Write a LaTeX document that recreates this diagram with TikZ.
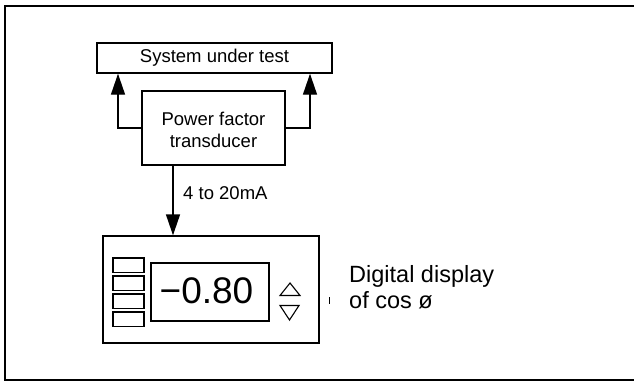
\documentclass[tikz,border=0pt]{standalone}
\usepackage{fontspec}
\setmainfont{Liberation Sans}
\usetikzlibrary{arrows.meta}
\tikzset{
  box/.style={draw, line width=1.4pt, inner sep=0pt},
  label/.style={inner sep=0pt, font=\fontsize{18.5}{22}\selectfont},
  flow/.style={line width=1.4pt, -{Triangle[length=21pt,width=14pt]}},
  key/.style={draw, line width=1.1pt},
}
\begin{document}
\begin{tikzpicture}[x=1pt,y=-1pt]
\useasboundingbox (0,0) rectangle (634,381);
% open frame (left, top, bottom)
\draw[line width=2.2pt] (634,6) -- (5,6) -- (5,380) -- (634,380);

% system and transducer
\node[box, minimum width=235pt, minimum height=30pt] (sys) at (214.5,58) {};
\node[label] (systxt) at (sys.center) {System under test};
\node[box, minimum width=143pt, minimum height=74pt] (pft) at (213.5,128) {};
\node[label, align=center] (pfttxt) at (213.5,130) {Power factor\\transducer};

\coordinate (lx) at (118,0);
\coordinate (rx) at (310,0);
\coordinate (dx) at (173,0);
\draw[flow] (pft.west) -| (sys.south -| lx);
\draw[flow] (pft.east) -| (sys.south -| rx);

% display unit
\node[box, minimum width=216pt, minimum height=107pt] (disp) at (211,289.5) {};
\draw[flow] (pft.south -| dx) -- (disp.north -| dx);
\node[label, anchor=base west] (ma) at (183,199.5) {4 to 20mA};

\foreach \t [count=\i] in {258,276,294,312}
  \draw[key] (113,\t) rectangle (144,\t+14.5);
\node[box, line width=1.2pt, minimum width=118pt, minimum height=58pt] (readout) at (210,292) {};
\node[inner sep=0pt, font=\fontsize{37}{40}\selectfont] (val) at (206.5,291) {−0.80};
\draw[line width=1.1pt] (280,295.5) -- (300,295.5) -- (290,283) -- cycle;
\draw[line width=1.1pt] (280,305.5) -- (299,305.5) -- (289.5,320) -- cycle;
\draw[line width=0.9pt] (329,297) -- (329,304);

\node[inner sep=0pt, anchor=base west, font=\fontsize{23.5}{27}\selectfont] (desc1) at (349,282) {Digital display};
\node[inner sep=0pt, anchor=base west, font=\fontsize{23.5}{27}\selectfont] (desc2) at (349,308) {of cos ø};
\end{tikzpicture}
\end{document}
